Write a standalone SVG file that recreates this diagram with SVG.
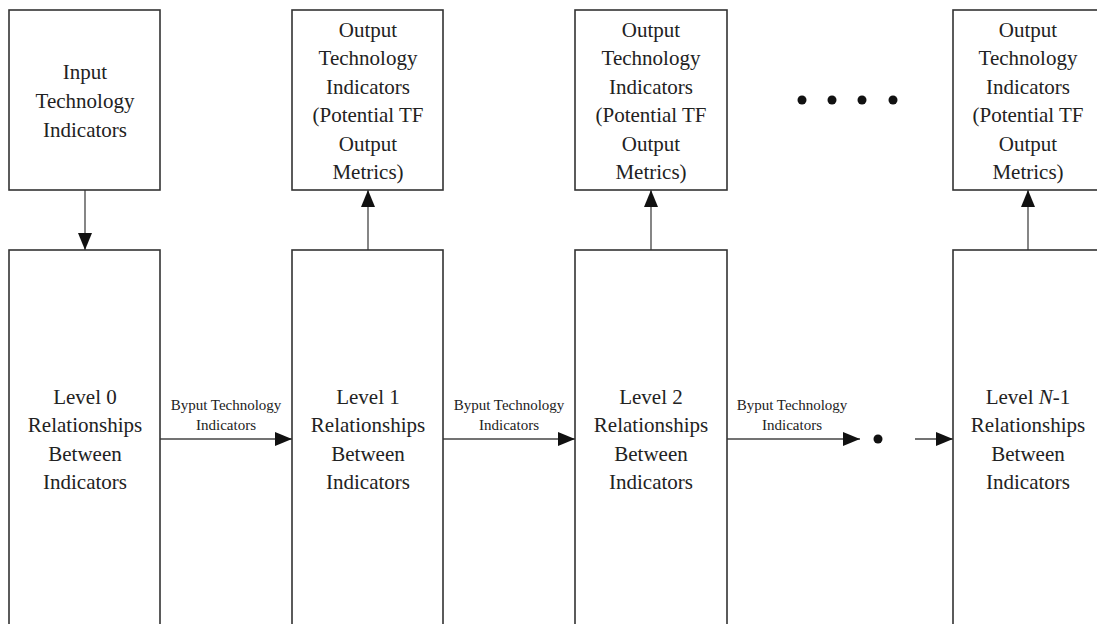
<svg xmlns="http://www.w3.org/2000/svg" width="1097" height="624" viewBox="0 0 1097 624">
<defs>
<style>
.box{fill:#fff;stroke:#333;stroke-width:1.6}
.t{font-family:"Liberation Serif","Times New Roman",serif;font-size:21px;fill:#222;text-anchor:middle}
.s{font-family:"Liberation Serif","Times New Roman",serif;font-size:15px;fill:#222;text-anchor:middle}
.c{stroke:#444;stroke-width:1.3;fill:none}
</style>
<marker id="ah" markerUnits="userSpaceOnUse" markerWidth="18" markerHeight="14" refX="17" refY="7" orient="auto">
<path d="M0,0 L17,7 L0,14 Z" fill="#111"/>
</marker>
</defs>
<rect width="1097" height="624" fill="#fff"/>
<g id="connectors">
<line class="c" x1="85" y1="190" x2="85" y2="250" marker-end="url(#ah)"/>
<line class="c" x1="368" y1="250" x2="368" y2="190" marker-end="url(#ah)"/>
<line class="c" x1="651" y1="250" x2="651" y2="190" marker-end="url(#ah)"/>
<line class="c" x1="1028" y1="250" x2="1028" y2="190" marker-end="url(#ah)"/>
<line class="c" x1="160" y1="439" x2="292" y2="439" marker-end="url(#ah)"/>
<line class="c" x1="443" y1="439" x2="575" y2="439" marker-end="url(#ah)"/>
<line class="c" x1="727" y1="439" x2="860" y2="439" marker-end="url(#ah)"/>
<line class="c" x1="915" y1="439" x2="953" y2="439" marker-end="url(#ah)"/>
<text class="s" x="226" y="410">Byput Technology</text>
<text class="s" x="226" y="430">Indicators</text>
<text class="s" x="509" y="410">Byput Technology</text>
<text class="s" x="509" y="430">Indicators</text>
<text class="s" x="792" y="410">Byput Technology</text>
<text class="s" x="792" y="430">Indicators</text>
</g>
<g id="ellipsis">
<circle cx="802" cy="100" r="4.5" fill="#111"/>
<circle cx="832" cy="100" r="4.5" fill="#111"/>
<circle cx="862" cy="100" r="4.5" fill="#111"/>
<circle cx="893" cy="100" r="4.5" fill="#111"/>
<circle cx="878" cy="439" r="4.5" fill="#111"/>
</g>
<g id="input">
<rect class="box" x="9" y="10" width="151" height="180"/>
<text class="t" x="85" y="79">Input</text>
<text class="t" x="85" y="108">Technology</text>
<text class="t" x="85" y="137">Indicators</text>
</g>
<g id="output1">
<rect class="box" x="292" y="10" width="151" height="180"/>
<text class="t" x="368" y="37">Output</text>
<text class="t" x="368" y="65.4">Technology</text>
<text class="t" x="368" y="93.8">Indicators</text>
<text class="t" x="368" y="122.2">(Potential TF</text>
<text class="t" x="368" y="150.6">Output</text>
<text class="t" x="368" y="179">Metrics)</text>
</g>
<g id="output2">
<rect class="box" x="575" y="10" width="152" height="180"/>
<text class="t" x="651" y="37">Output</text>
<text class="t" x="651" y="65.4">Technology</text>
<text class="t" x="651" y="93.8">Indicators</text>
<text class="t" x="651" y="122.2">(Potential TF</text>
<text class="t" x="651" y="150.6">Output</text>
<text class="t" x="651" y="179">Metrics)</text>
</g>
<g id="outputN">
<rect class="box" x="953" y="10" width="151" height="180"/>
<text class="t" x="1028" y="37">Output</text>
<text class="t" x="1028" y="65.4">Technology</text>
<text class="t" x="1028" y="93.8">Indicators</text>
<text class="t" x="1028" y="122.2">(Potential TF</text>
<text class="t" x="1028" y="150.6">Output</text>
<text class="t" x="1028" y="179">Metrics)</text>
</g>
<g id="level0">
<rect class="box" x="9" y="250" width="151" height="400"/>
<text class="t" x="85" y="404">Level 0</text>
<text class="t" x="85" y="432">Relationships</text>
<text class="t" x="85" y="461">Between</text>
<text class="t" x="85" y="489">Indicators</text>
</g>
<g id="level1">
<rect class="box" x="292" y="250" width="151" height="400"/>
<text class="t" x="368" y="404">Level 1</text>
<text class="t" x="368" y="432">Relationships</text>
<text class="t" x="368" y="461">Between</text>
<text class="t" x="368" y="489">Indicators</text>
</g>
<g id="level2">
<rect class="box" x="575" y="250" width="152" height="400"/>
<text class="t" x="651" y="404">Level 2</text>
<text class="t" x="651" y="432">Relationships</text>
<text class="t" x="651" y="461">Between</text>
<text class="t" x="651" y="489">Indicators</text>
</g>
<g id="levelN">
<rect class="box" x="953" y="250" width="151" height="400"/>
<text class="t" x="1028" y="404">Level <tspan font-style="italic">N</tspan>-1</text>
<text class="t" x="1028" y="432">Relationships</text>
<text class="t" x="1028" y="461">Between</text>
<text class="t" x="1028" y="489">Indicators</text>
</g>
</svg>
